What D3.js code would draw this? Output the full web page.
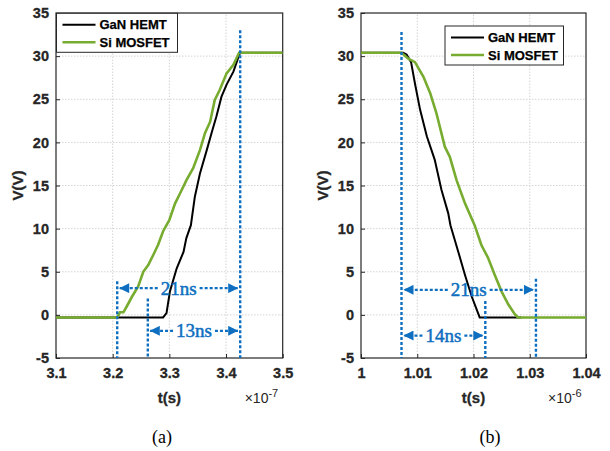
<!DOCTYPE html>
<html>
<head>
<meta charset="utf-8">
<script src="https://cdn.jsdelivr.net/npm/d3@7"></script>
<style>
  body { margin: 0; background: #fff; }
  svg { display: block; }
</style>
</head>
<body>
<script>
// panel (a): turn-on, time in units of 1e-7 s
const aGaNTime = [3.1, 3.289, 3.295, 3.301, 3.313, 3.325, 3.33, 3.338, 3.345, 3.354, 3.366, 3.375, 3.383, 3.392, 3.401, 3.413, 3.422, 3.425, 3.5];
const aGaNVolt = [-0.3, -0.3, 0.2, 2.7, 5.4, 7.3, 8.9, 10.4, 13.7, 16.4, 19.1, 21.2, 23.0, 25.3, 26.7, 28.2, 29.9, 30.4, 30.4];
const aSiTime = [3.1, 3.208, 3.213, 3.219, 3.225, 3.234, 3.245, 3.254, 3.263, 3.272, 3.28, 3.289, 3.295, 3.3, 3.31, 3.319, 3.33, 3.342, 3.354, 3.363, 3.372, 3.38, 3.389, 3.401, 3.413, 3.423, 3.5];
const aSiVolt = [-0.3, -0.3, 0.3, 0.3, 1.0, 2.1, 3.3, 5.0, 5.8, 7.0, 8.1, 9.7, 10.4, 11.0, 12.9, 14.1, 15.6, 17.0, 19.1, 21.1, 22.4, 24.9, 26.1, 28.0, 29.0, 30.4, 30.4];

// panel (b): turn-off, time in units of 1e-6 s
const bGaNTime = [1.0, 1.0075, 1.0081, 1.0089, 1.0096, 1.0105, 1.0117, 1.0131, 1.0143, 1.0155, 1.0159, 1.0173, 1.0185, 1.0197, 1.0211, 1.0285];
const bGaNVolt = [30.4, 30.4, 30.2, 29.3, 26.8, 23.8, 20.7, 18.0, 14.5, 11.8, 10.4, 7.3, 4.6, 2.1, -0.3, -0.3];
const bSiTime = [1.0, 1.0072, 1.0084, 1.0096, 1.0111, 1.0123, 1.0134, 1.0149, 1.0158, 1.017, 1.0185, 1.0202, 1.0214, 1.0226, 1.0238, 1.025, 1.0262, 1.0273, 1.0279, 1.04];
const bSiVolt = [30.4, 30.4, 29.7, 29.3, 27.6, 25.7, 23.4, 19.5, 18.3, 15.6, 12.9, 10.4, 8.1, 6.6, 4.6, 2.7, 1.2, 0.1, -0.3, -0.3];

const yTicks = [-5, 0, 5, 10, 15, 20, 25, 30, 35];
const aXTicks = [3.1, 3.2, 3.3, 3.4, 3.5];
const bXTicks = [1, 1.01, 1.02, 1.03, 1.04];
const seriesNames = ["GaN HEMT", "Si MOSFET"];

// markers: vertical dotted lines [t, top V] and arrows [t0, t1, V, label]
const aMarks = [[3.208, 3.9], [3.262, 1.9], [3.425, 33]];
const aArrows = [[3.208, 3.425, 3.1, "21ns"], [3.262, 3.425, -1.85, "13ns"]];
const bMarks = [[1.0072, 32.8], [1.0221, 1.6], [1.0311, 4.2]];
const bArrows = [[1.0072, 1.0311, 2.9, "21ns"], [1.0072, 1.0221, -2.4, "14ns"]];

const W = 610, H = 451;
const black = "#000000", green = "#77ac30", blue = "#0e6fc0", axisCol = "#262626";
const sans = "'Liberation Sans', Arial, sans-serif";
const serif = "'Liberation Serif', 'Times New Roman', serif";

const svg = d3.select("body").append("svg").attr("width", W).attr("height", H)
  .attr("font-family", sans);

const defs = svg.append("defs");
defs.append("marker").attr("id", "arr").attr("viewBox", "0 0 10 10")
  .attr("refX", 10).attr("refY", 5).attr("markerWidth", 12).attr("markerHeight", 10)
  .attr("markerUnits", "userSpaceOnUse").attr("orient", "auto-start-reverse")
  .append("path").attr("d", "M0,0L10,5L0,10Z").attr("fill", blue);

const drawPanel = (cfg) => {
  const x = d3.scaleLinear().domain(cfg.xDomain).range([cfg.left, cfg.right]);
  const y = d3.scaleLinear().domain([-5, 35]).range([358, 13]);
  const g = svg.append("g");

  // grid
  g.append("g").selectAll("line").data(cfg.xTicks.slice(1, -1)).join("line")
    .attr("x1", (d) => x(d)).attr("x2", (d) => x(d)).attr("y1", y(-5)).attr("y2", y(35))
    .attr("stroke", "#d4d4d4").attr("stroke-dasharray", "1.5,1.5");
  g.append("g").selectAll("line").data(yTicks.slice(1, -1)).join("line")
    .attr("x1", cfg.left).attr("x2", cfg.right).attr("y1", (d) => y(d)).attr("y2", (d) => y(d))
    .attr("stroke", "#d4d4d4").attr("stroke-dasharray", "1.5,1.5");

  // axes
  const xAxis = d3.axisBottom(x).tickValues(cfg.xTicks).tickFormat((d) => String(+d.toFixed(2))).tickSizeInner(-4).tickSizeOuter(0).tickPadding(10);
  const yAxis = d3.axisLeft(y).tickValues(yTicks).tickFormat((d) => String(d)).tickSizeInner(-4).tickSizeOuter(0).tickPadding(7);
  const xg = g.append("g").attr("transform", `translate(0,${y(-5)})`).call(xAxis);
  const yg = g.append("g").attr("transform", `translate(${cfg.left},0)`).call(yAxis);
  [xg, yg].forEach((a) => {
    a.attr("font-family", sans);
    a.select(".domain").remove();
    a.selectAll("line").attr("stroke", axisCol);
    a.selectAll("text").attr("fill", axisCol).attr("font-size", 14.5).attr("font-weight", 700)
      .attr("stroke", axisCol).attr("stroke-width", 0.3);
  });
  g.append("rect").attr("x", cfg.left).attr("y", y(35)).attr("width", cfg.right - cfg.left).attr("height", y(-5) - y(35))
    .attr("fill", "none").attr("stroke", axisCol).attr("stroke-width", 1.2);

  // lines
  const line = d3.line().x((d) => x(d[0])).y((d) => y(d[1]));
  g.append("path").datum(d3.zip(cfg.ganT, cfg.ganV)).attr("d", line)
    .attr("fill", "none").attr("stroke", black).attr("stroke-width", 2);
  g.append("path").datum(d3.zip(cfg.siT, cfg.siV)).attr("d", line)
    .attr("fill", "none").attr("stroke", green).attr("stroke-width", 2.6);

  // markers
  g.append("g").selectAll("line").data(cfg.marks).join("line")
    .attr("x1", (d) => x(d[0])).attr("x2", (d) => x(d[0])).attr("y1", (d) => y(d[1])).attr("y2", y(-5))
    .attr("stroke", blue).attr("stroke-width", 2.4).attr("stroke-dasharray", "3,2");
  cfg.arrows.forEach(([t0, t1, v, label]) => {
    const x0 = x(t0) + 2, x1 = x(t1) - 2, yy = y(v), mid = (x0 + x1) / 2;
    const txt = g.append("text").attr("x", mid).attr("y", yy + 6.5)
      .attr("text-anchor", "middle").attr("font-family", serif)
      .attr("font-size", 19).attr("fill", blue).attr("stroke", blue).attr("stroke-width", 0.5).text(label);
    const half = txt.node().getComputedTextLength() / 2 + 3;
    g.append("line").attr("x1", mid - half).attr("x2", x0).attr("y1", yy).attr("y2", yy)
      .attr("stroke", blue).attr("stroke-width", 2.2).attr("stroke-dasharray", "3,2")
      .attr("marker-end", "url(#arr)");
    g.append("line").attr("x1", mid + half).attr("x2", x1).attr("y1", yy).attr("y2", yy)
      .attr("stroke", blue).attr("stroke-width", 2.2).attr("stroke-dasharray", "3,2")
      .attr("marker-end", "url(#arr)");
  });

  // legend
  const lg = g.append("g").attr("transform", `translate(${cfg.legend[0]},${cfg.legend[1]})`);
  lg.append("rect").attr("width", cfg.legend[2]).attr("height", 39).attr("fill", "#fff").attr("stroke", axisCol);
  seriesNames.forEach((name, i) => {
    const ly = 11.5 + i * 17.5;
    lg.append("line").attr("x1", 6).attr("x2", 39).attr("y1", ly).attr("y2", ly)
      .attr("stroke", i ? green : black).attr("stroke-width", i ? 2.6 : 2);
    lg.append("text").attr("x", 43).attr("y", ly + 4.7).attr("font-size", 13).attr("font-weight", 700)
      .attr("fill", "#000").attr("stroke", "#000").attr("stroke-width", 0.25).text(name);
  });

  // labels
  const bold = (s) => s.attr("font-weight", 700).attr("fill", axisCol).attr("stroke", axisCol).attr("stroke-width", 0.3);
  g.append("text").attr("transform", `translate(${cfg.left - 33},${y(15)}) rotate(-90)`)
    .attr("text-anchor", "middle").attr("font-size", 15).call(bold).text("V(V)");
  g.append("text").attr("x", (cfg.left + cfg.right) / 2).attr("y", 403)
    .attr("text-anchor", "middle").attr("font-size", 15).call(bold).text("t(s)");
  const ex = g.append("text").attr("x", cfg.right - 38).attr("y", 403).attr("font-size", 14).attr("fill", axisCol);
  ex.append("tspan").text("×10");
  ex.append("tspan").attr("dy", -6).attr("font-size", 11).text(cfg.exp);
  g.append("text").attr("x", cfg.caption).attr("y", 443).attr("text-anchor", "middle")
    .attr("font-family", serif).attr("font-size", 18).attr("fill", "#000").text(cfg.label);
};

drawPanel({ left: 56, right: 282.7, xDomain: [3.1, 3.5], xTicks: aXTicks, ganT: aGaNTime, ganV: aGaNVolt, siT: aSiTime, siV: aSiVolt,
  marks: aMarks, arrows: aArrows, legend: [56.5, 13.3, 121], exp: "-7", caption: 162, label: "(a)" });
drawPanel({ left: 361, right: 586, xDomain: [1, 1.04], xTicks: bXTicks, ganT: bGaNTime, ganV: bGaNVolt, siT: bSiTime, siV: bSiVolt,
  marks: bMarks, arrows: bArrows, legend: [445, 26, 118.5], exp: "-6", caption: 490, label: "(b)" });
</script>
</body>
</html>
